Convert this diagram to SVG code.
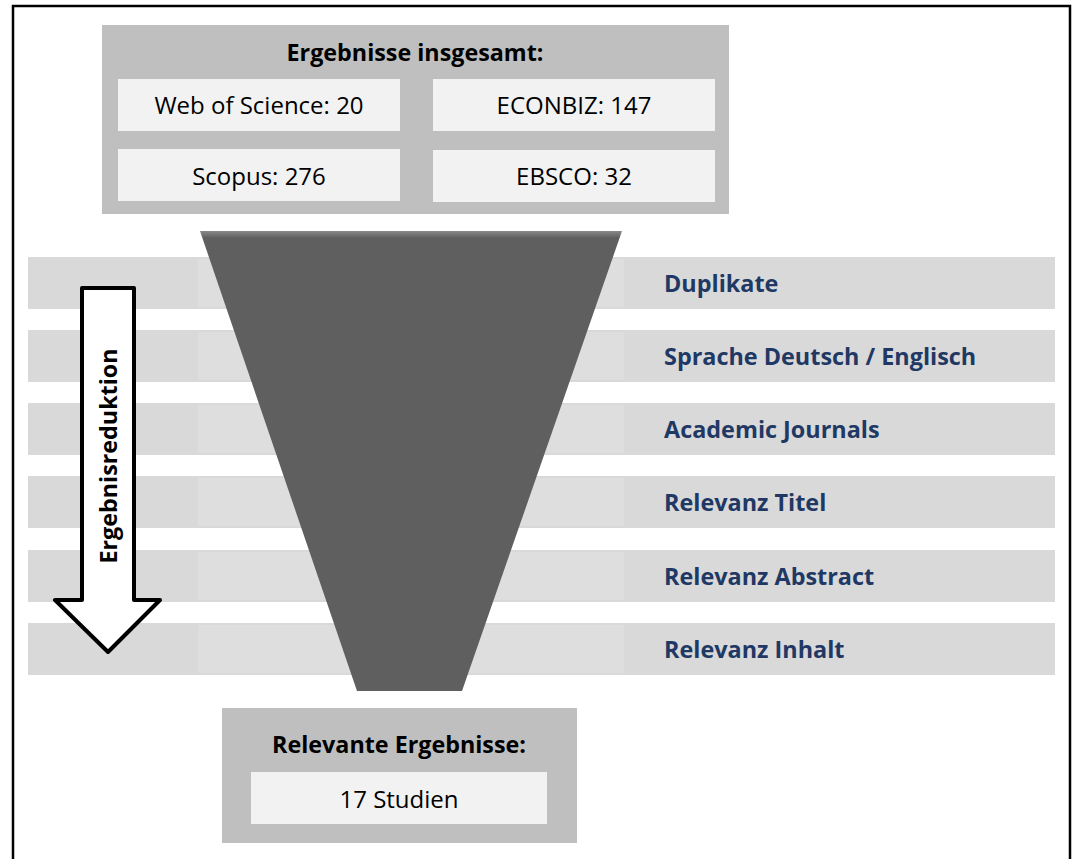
<svg xmlns="http://www.w3.org/2000/svg" width="1076" height="859" viewBox="0 0 1076 859">
<defs>
<style>
.t{font-family:"Open Sans","Noto Sans","Liberation Sans",sans-serif;}
.box{fill:#bfbfbf;}
.inner{fill:#f2f2f2;}
.stripe{fill:#d9d9d9;}
.stripeMid{fill:#dedede;}
.head{font-weight:bold;font-size:23.3px;fill:#000;text-anchor:middle;}
.val{font-size:24px;fill:#000;text-anchor:middle;}
.lab{font-weight:bold;font-size:23.4px;fill:#1f3864;}
</style>
<linearGradient id="fg" x1="0" y1="0" x2="0" y2="1">
<stop offset="0" stop-color="#8a8a8a"/>
<stop offset="0.015" stop-color="#5f5f5f"/>
<stop offset="1" stop-color="#5f5f5f"/>
</linearGradient>
</defs>
<rect width="1076" height="859" fill="#fff"/>
<path d="M13 870 V6 H1070 V870" fill="none" stroke="#000" stroke-width="2.5"/>

<g id="stripes">
<rect class="stripe" x="28" y="257" width="1027" height="52"/>
<rect class="stripe" x="28" y="330" width="1027" height="52"/>
<rect class="stripe" x="28" y="403" width="1027" height="52"/>
<rect class="stripe" x="28" y="476" width="1027" height="52"/>
<rect class="stripe" x="28" y="550" width="1027" height="52"/>
<rect class="stripe" x="28" y="623" width="1027" height="52"/>
<rect class="stripeMid" x="198" y="259" width="426" height="48"/>
<rect class="stripeMid" x="198" y="332" width="426" height="48"/>
<rect class="stripeMid" x="198" y="405" width="426" height="48"/>
<rect class="stripeMid" x="198" y="478" width="426" height="48"/>
<rect class="stripeMid" x="198" y="552" width="426" height="48"/>
<rect class="stripeMid" x="198" y="625" width="426" height="48"/>
</g>

<g id="funnel">
<polygon points="200,231 622,231 462,691 357,691" fill="url(#fg)"/>
</g>

<g id="top-box">
<rect class="box" x="102" y="25" width="627" height="189"/>
<text class="t head" x="415" y="61">Ergebnisse insgesamt:</text>
</g>
<g id="wos">
<rect class="inner" x="118" y="79" width="282" height="52"/>
<text class="t val" x="259" y="114">Web of Science: 20</text>
</g>
<g id="econbiz">
<rect class="inner" x="433" y="79" width="282" height="52"/>
<text class="t val" x="574" y="114">ECONBIZ: 147</text>
</g>
<g id="scopus">
<rect class="inner" x="118" y="149" width="282" height="52"/>
<text class="t val" x="259" y="185">Scopus: 276</text>
</g>
<g id="ebsco">
<rect class="inner" x="433" y="150" width="282" height="52"/>
<text class="t val" x="574" y="185">EBSCO: 32</text>
</g>

<g id="labels">
<text class="t lab" x="664" y="292">Duplikate</text>
<text class="t lab" x="664" y="365">Sprache Deutsch / Englisch</text>
<text class="t lab" x="664" y="438">Academic Journals</text>
<text class="t lab" x="664" y="511">Relevanz Titel</text>
<text class="t lab" x="664" y="585">Relevanz Abstract</text>
<text class="t lab" x="664" y="658">Relevanz Inhalt</text>
</g>

<g id="arrow">
<path d="M82 288 H134 V600 H160 L108 652 L55 600 H82 Z" fill="#fff" stroke="#000" stroke-width="4" stroke-linejoin="round"/>
<text class="t" x="0" y="0" transform="translate(117,456) rotate(-90)" font-weight="bold" font-size="23.3" text-anchor="middle" fill="#000">Ergebnisreduktion</text>
</g>

<g id="bottom-box">
<rect class="box" x="222" y="708" width="355" height="135"/>
<text class="t head" x="399" y="753">Relevante Ergebnisse:</text>
<rect class="inner" x="251" y="772" width="296" height="52"/>
<text class="t val" x="399" y="808">17 Studien</text>
</g>
</svg>
